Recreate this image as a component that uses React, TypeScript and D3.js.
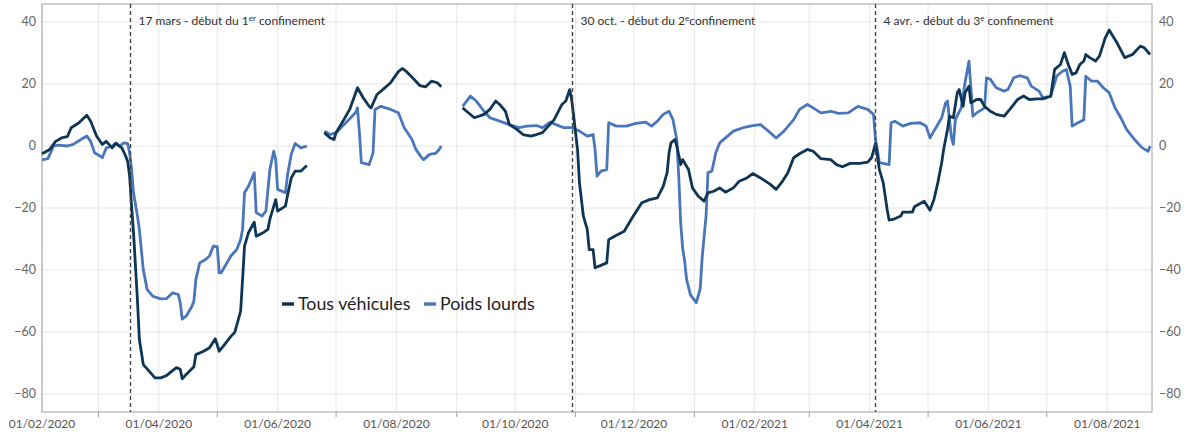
import * as d3 from "d3";

// Séries (écart en %); null = pas de donnée
const tousVehicules: [string, number | null][] = [
  ["2020-02-01", -2.5], ["2020-02-05", -1.1], ["2020-02-08", 1.5], ["2020-02-11", 2.6],
  ["2020-02-14", 3], ["2020-02-16", 5.9], ["2020-02-20", 7.5], ["2020-02-24", 9.9],
  ["2020-02-26", 8], ["2020-02-29", 3.2], ["2020-03-03", 0.5], ["2020-03-05", 1.5],
  ["2020-03-08", -0.6], ["2020-03-10", 0.8], ["2020-03-13", -0.6], ["2020-03-15", -3.3],
  ["2020-03-16", -5], ["2020-03-17", -9.7], ["2020-03-18", -19.4], ["2020-03-19", -28],
  ["2020-03-21", -49.5], ["2020-03-22", -62.4], ["2020-03-24", -70.5], ["2020-03-27", -72.6],
  ["2020-03-30", -74.8], ["2020-04-02", -74.8], ["2020-04-05", -74], ["2020-04-10", -71.5],
  ["2020-04-12", -72], ["2020-04-13", -75.1], ["2020-04-15", -73.7], ["2020-04-19", -71.2],
  ["2020-04-20", -67.3], ["2020-04-24", -66.2], ["2020-04-27", -65.1], ["2020-04-30", -62.2],
  ["2020-05-02", -66.2], ["2020-05-04", -64.6], ["2020-05-08", -61.4], ["2020-05-10", -60.1],
  ["2020-05-13", -53.3], ["2020-05-14", -43], ["2020-05-15", -32.3], ["2020-05-17", -28],
  ["2020-05-20", -24.6], ["2020-05-21", -29.1], ["2020-05-25", -27.8], ["2020-05-27", -26.9],
  ["2020-05-28", -23.7], ["2020-05-31", -17.3], ["2020-06-01", -21], ["2020-06-05", -19.4],
  ["2020-06-06", -16.2], ["2020-06-08", -10.3], ["2020-06-10", -8.1], ["2020-06-13", -8.1],
  ["2020-06-16", -6.3], ["2020-06-20", null],
  ["2020-06-25", 4.3], ["2020-06-28", 2.6], ["2020-06-30", 2.1], ["2020-07-01", 4.3],
  ["2020-07-05", 8.5], ["2020-07-08", 11.8], ["2020-07-12", 18.8], ["2020-07-15", 15.5],
  ["2020-07-18", 12.8], ["2020-07-19", 12.3], ["2020-07-22", 16.6], ["2020-07-25", 18.2],
  ["2020-07-29", 20.4], ["2020-08-02", 24], ["2020-08-04", 25], ["2020-08-06", 24.1],
  ["2020-08-10", 21.5], ["2020-08-13", 19.5], ["2020-08-16", 19.1], ["2020-08-19", 20.9],
  ["2020-08-22", 20.4], ["2020-08-24", 19.1], ["2020-08-30", null],
  ["2020-09-04", 12.3], ["2020-09-06", 11.2], ["2020-09-10", 9.1], ["2020-09-15", 10.2],
  ["2020-09-18", 11.8], ["2020-09-21", 14.5], ["2020-09-23", 13.4], ["2020-09-26", 11.2],
  ["2020-09-28", 6.9], ["2020-10-02", 5.3], ["2020-10-05", 3.7], ["2020-10-09", 3.2],
  ["2020-10-12", 3.7], ["2020-10-15", 4.3], ["2020-10-18", 6.4], ["2020-10-21", 8.5],
  ["2020-10-25", 13.4], ["2020-10-27", 14.5], ["2020-10-29", 18.2], ["2020-10-30", 15],
  ["2020-11-02", -1.1], ["2020-11-03", -11.9], ["2020-11-05", -22.6], ["2020-11-07", -26.9],
  ["2020-11-08", -33.4], ["2020-11-10", -33.4], ["2020-11-11", -39.3], ["2020-11-14", -38.5],
  ["2020-11-17", -37.7], ["2020-11-18", -30.2], ["2020-11-21", -29.1], ["2020-11-26", -27.5],
  ["2020-11-30", -23.2], ["2020-12-05", -18.3], ["2020-12-09", -17.3], ["2020-12-13", -16.7],
  ["2020-12-16", -13], ["2020-12-18", -8.6], ["2020-12-19", -2.2], ["2020-12-20", 1],
  ["2020-12-22", 2.1], ["2020-12-23", 0], ["2020-12-25", -6], ["2020-12-26", -4.4],
  ["2020-12-29", -7.6], ["2020-12-31", -13.5], ["2021-01-03", -16.2], ["2021-01-06", -17.8],
  ["2021-01-08", -15.1], ["2021-01-11", -14.6], ["2021-01-14", -13.5], ["2021-01-17", -14.9],
  ["2021-01-21", -13.5], ["2021-01-24", -11.4], ["2021-01-28", -10.3], ["2021-01-31", -8.9],
  ["2021-02-04", -10.3], ["2021-02-09", -12.4], ["2021-02-12", -14], ["2021-02-15", -11.6],
  ["2021-02-18", -8.6], ["2021-02-21", -3.8], ["2021-02-24", -2.5], ["2021-02-28", -1.1],
  ["2021-03-03", -1.7], ["2021-03-07", -4.1], ["2021-03-12", -4.4], ["2021-03-15", -6],
  ["2021-03-18", -6.7], ["2021-03-22", -5.6], ["2021-03-27", -5.6], ["2021-03-31", -5.2],
  ["2021-04-02", -3.8], ["2021-04-04", 0.8], ["2021-04-06", -7.6], ["2021-04-08", -11.9],
  ["2021-04-10", -20.5], ["2021-04-11", -23.9], ["2021-04-13", -23.7], ["2021-04-17", -22.6],
  ["2021-04-18", -21.3], ["2021-04-23", -21.3], ["2021-04-24", -19.6], ["2021-04-29", -17.8],
  ["2021-05-02", -20.7], ["2021-05-04", -17.3], ["2021-05-06", -11.9], ["2021-05-08", -5.4],
  ["2021-05-09", -1.1], ["2021-05-10", 2.1], ["2021-05-11", 5.3], ["2021-05-12", 9.6],
  ["2021-05-14", 9.1], ["2021-05-16", 17.2], ["2021-05-17", 18.2], ["2021-05-19", 12.8],
  ["2021-05-20", 17.2], ["2021-05-22", 19.3], ["2021-05-23", 13.9], ["2021-05-26", 15],
  ["2021-05-28", 15], ["2021-05-30", 12.8], ["2021-06-02", 11.2], ["2021-06-05", 10.2],
  ["2021-06-09", 9.6], ["2021-06-12", 11.8], ["2021-06-16", 15], ["2021-06-19", 16.1],
  ["2021-06-22", 15], ["2021-06-26", 15.2], ["2021-06-29", 15.2], ["2021-07-03", 16.1],
  ["2021-07-05", 24.7], ["2021-07-08", 26.3], ["2021-07-10", 30.1], ["2021-07-12", 26.3],
  ["2021-07-14", 23.1], ["2021-07-16", 23.6], ["2021-07-18", 26.3], ["2021-07-20", 27.4],
  ["2021-07-21", 29.5], ["2021-07-23", 28.5], ["2021-07-26", 27.4], ["2021-07-28", 29],
  ["2021-07-31", 34.9], ["2021-08-02", 37.4], ["2021-08-06", 33.3], ["2021-08-10", 28.5],
  ["2021-08-14", 29.5], ["2021-08-18", 32.2], ["2021-08-20", 31.7], ["2021-08-23", 29.5],
];

const poidsLourds: [string, number | null][] = [
  ["2020-02-01", -4.5], ["2020-02-04", -4.1], ["2020-02-07", 0], ["2020-02-09", 0.3],
  ["2020-02-14", 0], ["2020-02-17", 0.5], ["2020-02-21", 2.1], ["2020-02-24", 3.2],
  ["2020-02-26", 1.5], ["2020-02-28", -2.2], ["2020-03-02", -3.3], ["2020-03-03", -3.8],
  ["2020-03-05", -0.6], ["2020-03-08", 0], ["2020-03-10", 1], ["2020-03-12", 0],
  ["2020-03-14", 1], ["2020-03-16", 0.8], ["2020-03-17", -2.2], ["2020-03-18", -7.6],
  ["2020-03-19", -15.1], ["2020-03-21", -22.6], ["2020-03-22", -26.9], ["2020-03-23", -33.4],
  ["2020-03-24", -39.8], ["2020-03-26", -46.3], ["2020-03-29", -48.5], ["2020-04-02", -49.3],
  ["2020-04-05", -49.2], ["2020-04-08", -47.4], ["2020-04-11", -47.9], ["2020-04-12", -50.6],
  ["2020-04-13", -55.8], ["2020-04-15", -54.9], ["2020-04-18", -51.7], ["2020-04-19", -50],
  ["2020-04-20", -43.1], ["2020-04-22", -37.7], ["2020-04-25", -36.6], ["2020-04-27", -35.5],
  ["2020-04-29", -32.3], ["2020-05-01", -32.5], ["2020-05-02", -40.9], ["2020-05-03", -40.9],
  ["2020-05-08", -35.5], ["2020-05-11", -33.4], ["2020-05-13", -30.2], ["2020-05-14", -26.9],
  ["2020-05-15", -15.1], ["2020-05-17", -13], ["2020-05-20", -8.6], ["2020-05-21", -21.5],
  ["2020-05-24", -22.6], ["2020-05-26", -21], ["2020-05-28", -7.6], ["2020-05-30", -1.7],
  ["2020-05-31", -4.4], ["2020-06-01", -14], ["2020-06-05", -15.1], ["2020-06-06", -9.7],
  ["2020-06-08", -2.7], ["2020-06-10", 0.8], ["2020-06-13", -0.6], ["2020-06-16", 0],
  ["2020-06-20", null],
  ["2020-06-25", 4.8], ["2020-06-28", 3.7], ["2020-07-01", 4.3], ["2020-07-06", 7.5],
  ["2020-07-11", 10.7], ["2020-07-12", 12.3], ["2020-07-13", 4.3], ["2020-07-14", -5.4],
  ["2020-07-18", -6], ["2020-07-20", -2.2], ["2020-07-21", 11.8], ["2020-07-24", 12.8],
  ["2020-07-29", 11.8], ["2020-08-02", 10.7], ["2020-08-05", 5.9], ["2020-08-09", 2.1],
  ["2020-08-11", -1.1], ["2020-08-14", -3.8], ["2020-08-15", -4.4], ["2020-08-18", -2.7],
  ["2020-08-21", -2.4], ["2020-08-23", -1.1], ["2020-08-24", 0], ["2020-08-30", null],
  ["2020-09-04", 12.8], ["2020-09-08", 16.1], ["2020-09-11", 14.5], ["2020-09-15", 11.2],
  ["2020-09-18", 9.1], ["2020-09-23", 8], ["2020-09-28", 6.9], ["2020-10-03", 5.9],
  ["2020-10-07", 6.4], ["2020-10-12", 6.6], ["2020-10-15", 5.9], ["2020-10-19", 7.7],
  ["2020-10-22", 6.9], ["2020-10-26", 5.9], ["2020-10-30", 5.9], ["2020-11-03", 4.8],
  ["2020-11-07", 3.2], ["2020-11-10", 3.7], ["2020-11-11", -1.1], ["2020-11-12", -9.7],
  ["2020-11-14", -8.1], ["2020-11-17", -7.6], ["2020-11-18", 7.5], ["2020-11-22", 6.4],
  ["2020-11-27", 6.4], ["2020-12-02", 7.3], ["2020-12-07", 7.7], ["2020-12-10", 6.4],
  ["2020-12-13", 8], ["2020-12-16", 10.2], ["2020-12-19", 11.2], ["2020-12-21", 8.5],
  ["2020-12-23", 2], ["2020-12-24", -10], ["2020-12-25", -25], ["2020-12-26", -33],
  ["2020-12-27", -37], ["2020-12-28", -43], ["2020-12-30", -48], ["2021-01-02", -50.5],
  ["2021-01-04", -46], ["2021-01-05", -36], ["2021-01-07", -22.6], ["2021-01-08", -8.6],
  ["2021-01-10", -8.1], ["2021-01-12", -2.2], ["2021-01-14", 1], ["2021-01-17", 2.6],
  ["2021-01-21", 4.8], ["2021-01-26", 5.9], ["2021-01-31", 6.6], ["2021-02-04", 6.9],
  ["2021-02-08", 4.8], ["2021-02-12", 2.6], ["2021-02-16", 4.8], ["2021-02-21", 8.5],
  ["2021-02-24", 11.8], ["2021-02-28", 13.4], ["2021-03-03", 12.3], ["2021-03-07", 10.7],
  ["2021-03-12", 11.2], ["2021-03-16", 10.5], ["2021-03-21", 10.7], ["2021-03-26", 12.8],
  ["2021-03-31", 11.8], ["2021-04-03", 10.2], ["2021-04-04", 2.1], ["2021-04-05", -1.1],
  ["2021-04-06", -5.4], ["2021-04-11", -6], ["2021-04-12", 7.5], ["2021-04-14", 8],
  ["2021-04-18", 6.4], ["2021-04-22", 7.3], ["2021-04-27", 7.5], ["2021-04-30", 6.4],
  ["2021-05-02", 2.6], ["2021-05-04", 4.8], ["2021-05-08", 9.1], ["2021-05-10", 13.9],
  ["2021-05-11", 14.5], ["2021-05-13", 2.6], ["2021-05-14", 0.5], ["2021-05-15", 8.5],
  ["2021-05-18", 12.3], ["2021-05-20", 20.4], ["2021-05-22", 27.4], ["2021-05-23", 18.8],
  ["2021-05-24", 9.6], ["2021-05-26", 10.7], ["2021-05-30", 12.3], ["2021-05-31", 22],
  ["2021-06-02", 21.5], ["2021-06-05", 18.8], ["2021-06-09", 17.7], ["2021-06-11", 18.2],
  ["2021-06-14", 22], ["2021-06-17", 22.7], ["2021-06-21", 22], ["2021-06-23", 19.3],
  ["2021-06-27", 17.7], ["2021-06-29", 15.5], ["2021-07-03", 16.1], ["2021-07-06", 22.5],
  ["2021-07-09", 24.1], ["2021-07-11", 24.7], ["2021-07-13", 19.3], ["2021-07-14", 6.4],
  ["2021-07-17", 7.5], ["2021-07-20", 8.5], ["2021-07-21", 22.5], ["2021-07-24", 20.9],
  ["2021-07-27", 20.9], ["2021-07-30", 18.8], ["2021-08-02", 17.2], ["2021-08-05", 12.3],
  ["2021-08-08", 9.1], ["2021-08-11", 5.3], ["2021-08-15", 2.1], ["2021-08-19", -0.6],
  ["2021-08-22", -1.7], ["2021-08-23", 0],
];

const yTicks = [-80, -60, -40, -20, 0, 20, 40];

const confinements = [
  { date: "2020-03-17", before: "17 mars - début du 1", sup: "er", after: " confinement" },
  { date: "2020-10-30", before: "30 oct. - début du 2", sup: "e", after: "confinement" },
  { date: "2021-04-04", before: "4 avr. - début du 3", sup: "e", after: " confinement" },
];

const legend = [
  { label: "Tous véhicules", color: "#0f3554" },
  { label: "Poids lourds", color: "#4a76bb" },
];

const parse = d3.utcParse("%Y-%m-%d");
const fmt = d3.utcFormat("%d/%m/%Y");
const font = "Lato, 'Open Sans', sans-serif";

export default function App() {
  const width = 1189;
  const height = 434;
  const m = { left: 42, right: 37, top: 4, bottom: 22 };

  const x = d3
    .scaleUtc()
    .domain([parse("2020-02-01")!, parse("2021-08-24")!])
    .range([m.left, width - m.right]);
  const y = d3
    .scaleLinear()
    .domain([-85.8, 45.8])
    .range([height - m.bottom, m.top]);

  const months = d3.utcMonth.range(parse("2020-02-01")!, parse("2021-08-24")!);

  const line = d3
    .line<[string, number | null]>()
    .defined((d) => d[1] !== null)
    .x((d) => x(parse(d[0])!))
    .y((d) => y(d[1] as number));

  const x0 = m.left;
  const x1 = width - m.right;
  const yb = height - m.bottom;

  return (
    <svg
      width={width}
      height={height}
      style={{ position: "absolute", left: 0, top: 0, display: "block" }}
      fontFamily={font}
    >
      <rect width={width} height={height} fill="#fff" />
      {/* grille */}
      {months.map((d, i) => (
        <line key={"gx" + i} x1={x(d)} x2={x(d)} y1={m.top} y2={yb} stroke="#e6e6e6" />
      ))}
      {yTicks.map((t) => (
        <line key={"gy" + t} x1={x0} x2={x1} y1={y(t)} y2={y(t)} stroke="#e6e6e6" />
      ))}

      {/* cadre */}
      <rect x={x0} y={m.top} width={x1 - x0} height={yb - m.top} fill="none" stroke="#a0a0a0" />

      {/* axe x */}
      {months.map((d, i) =>
        d.getUTCMonth() % 2 === 1 ? (
          <text key={"lx" + i} x={x(d)} y={yb + 16} fontSize={12} fill="#555" textAnchor="middle">
            {fmt(d)}
          </text>
        ) : (
          <line key={"tx" + i} x1={x(d)} x2={x(d)} y1={yb} y2={yb + 5} stroke="#a0a0a0" />
        )
      )}

      {/* axes y */}
      {yTicks.map((t) => (
        <g key={"ly" + t} fontSize={12.5} fill="#666">
          <text x={x0 - 6} y={y(t)} dy="0.35em" textAnchor="end">
            {d3.format("")(t).replace("-", "\u2212")}
          </text>
          <text x={x1 + 7} y={y(t)} dy="0.35em" textAnchor="start">
            {d3.format("")(t).replace("-", "\u2212")}
          </text>
        </g>
      ))}

      {/* séries */}
      <path d={line(poidsLourds) ?? ""} fill="none" stroke={legend[1].color} strokeWidth={2.8} strokeLinejoin="round" />
      <path d={line(tousVehicules) ?? ""} fill="none" stroke={legend[0].color} strokeWidth={2.8} strokeLinejoin="round" />

      {/* confinements */}
      {confinements.map((c) => {
        const cx = Math.round(x(parse(c.date)!)) + 0.5;
        return (
          <g key={c.date}>
            <line x1={cx} x2={cx} y1={m.top} y2={yb} stroke="#444" strokeWidth={1.4} strokeDasharray="4,3" />
            <text x={cx + 8} y={25} fontSize={12} fill="#333">
              {c.before}
              <tspan dy={-4} fontSize={8}>
                {c.sup}
              </tspan>
              <tspan dy={4}>{c.after}</tspan>
            </text>
          </g>
        );
      })}

      {/* légende */}
      {legend.map((l, i) => {
        const lx = [282, 424][i];
        return (
          <g key={l.label}>
            <line x1={lx} x2={lx + 12} y1={304} y2={304} stroke={l.color} strokeWidth={3.5} />
            <text x={lx + 16} y={304} dy="0.35em" fontSize={17.8} fill="#222">
              {l.label}
            </text>
          </g>
        );
      })}
    </svg>
  );
}
